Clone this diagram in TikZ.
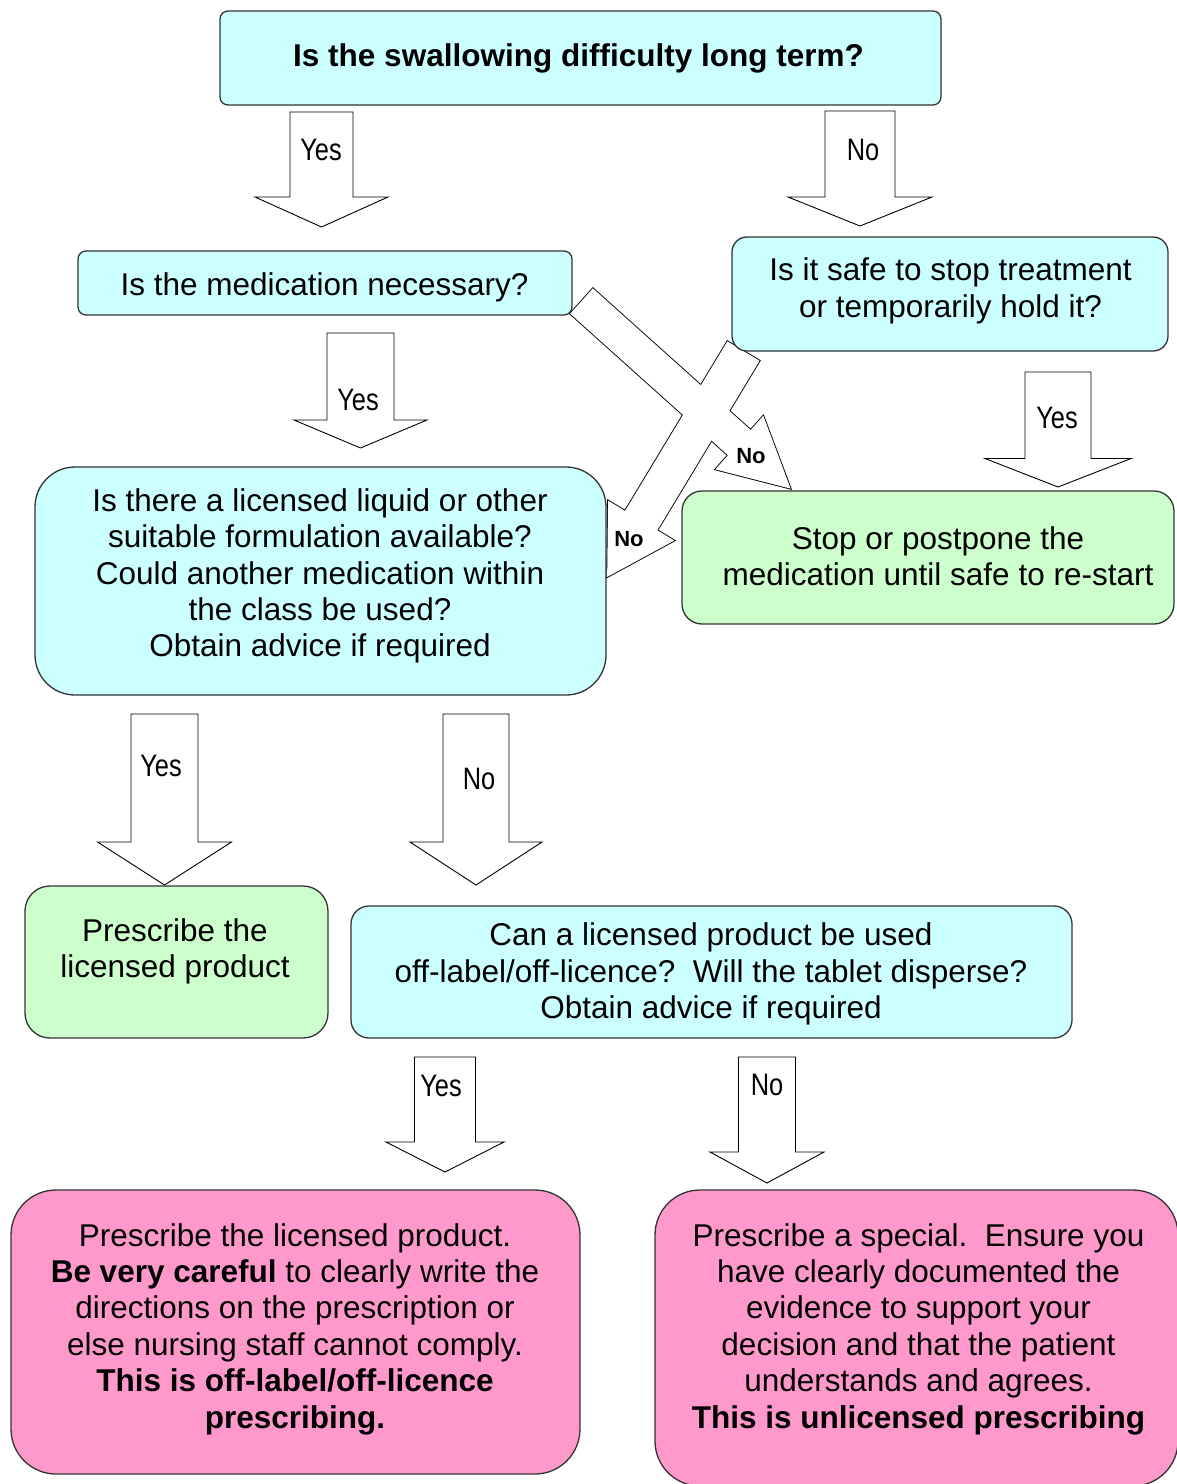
\documentclass[tikz,border=0pt]{standalone}
\usepackage{fontspec}
\setmainfont{Liberation Sans}
\newfontfamily\narrowfont[FakeStretch=0.82]{Liberation Sans}
\definecolor{boxcyan}{HTML}{CCFFFF}
\definecolor{boxgreen}{HTML}{CCFFCC}
\definecolor{boxpink}{HTML}{FF99CC}
\definecolor{boxline}{HTML}{333333}
\newcommand{\blockarrow}[7][arrowbody]{%
  \begin{scope}[shift={#2},rotate=#3]
    \path[#1] (0,-#5)--({#4-#7},-#5)--({#4-#7},-#6)--(#4,0)--({#4-#7},#6)--({#4-#7},#5)--(0,#5)--cycle;
  \end{scope}}
\begin{document}
\begin{tikzpicture}[x=1pt,y=-1pt,
  arrowbody/.style={draw=black,line width=0.9pt,fill=white,line join=miter},
  crossbody/.style={draw=black,line width=1.8pt,fill=white,line join=miter},
  arrowfill/.style={fill=white},
  cyanbox/.style={draw=boxline,line width=1.3pt,fill=boxcyan,inner sep=0pt},
  greenbox/.style={cyanbox,fill=boxgreen},
  pinkbox/.style={cyanbox,fill=boxpink},
  boxtext/.style={align=center,inner sep=0pt,yshift=-3,font=\fontsize{31.5}{36.4}\selectfont},
  answer/.style={inner sep=0pt,font=\narrowfont\fontsize{31}{31}\selectfont},
  smallno/.style={inner sep=0pt,font=\bfseries\fontsize{22}{22}\selectfont}]
\fill[white] (0,0) rectangle (1176,1484);
\useasboundingbox (0,0) rectangle (1176,1484);

\blockarrow[crossbody]{(581.5,301)}{-41.9}{281}{17}{36}{69}
\blockarrow[crossbody]{(743.5,351)}{-121.1}{264}{18.8}{38.7}{66}
\blockarrow[arrowfill]{(581.5,301)}{-41.9}{281}{17}{36}{69}
\blockarrow[arrowfill]{(743.5,351)}{-121.1}{264}{18.8}{38.7}{66}

\blockarrow{(321.5,112)}{-90}{115}{31.5}{66.5}{30}
\blockarrow{(860,111)}{-90}{115}{35}{72}{29}
\blockarrow{(360.5,333)}{-90}{115}{33.5}{66.5}{28}
\blockarrow{(1058,372)}{-90}{115}{33}{73}{28.5}
\blockarrow{(164.5,714)}{-90}{171}{33.5}{67}{43}
\blockarrow{(476,714)}{-90}{171}{33}{66}{43}
\blockarrow{(445,1057)}{-90}{115}{30.5}{59}{30}
\blockarrow{(767,1057)}{-90}{126}{28.5}{57}{31}

\node (q1) [cyanbox,rounded corners=8,minimum width=721,minimum height=94] at (580.5,58) {};
\node (q2) [cyanbox,rounded corners=8,minimum width=494,minimum height=64] at (325,283) {};
\node (q3) [cyanbox,rounded corners=15,minimum width=436,minimum height=114] at (950,294) {};
\node (q4) [cyanbox,rounded corners=40,minimum width=571,minimum height=228] at (320.5,581) {};
\node (q5) [greenbox,rounded corners=20,minimum width=492,minimum height=133] at (928,557.5) {};
\node (q6) [greenbox,rounded corners=25,minimum width=303,minimum height=152] at (176.5,962) {};
\node (q7) [cyanbox,rounded corners=18,minimum width=721,minimum height=132] at (711.5,972) {};
\node (q8) [pinkbox,rounded corners=45,minimum width=569,minimum height=284] at (295.5,1332) {};
\node (q9) [pinkbox,rounded corners=45,minimum width=523,minimum height=296] at (916.5,1338) {};

\node (t1) [boxtext,font=\bfseries\fontsize{31.5}{36.4}\selectfont] at (578.5,55) {Is the swallowing difficulty long term?};
\node (t2) [boxtext] at (324.5,284) {Is the medication necessary?};
\node (t3) [boxtext] at (950.5,288) {Is it safe to stop treatment\\or temporarily hold it?};
\node (t4) [boxtext] at (320,573) {Is there a licensed liquid or other\\suitable formulation available?\\Could another medication within\\the class be used?\\Obtain advice if required};
\node (t5) [boxtext] at (938,553.5) {Stop or postpone the\\medication until safe to re-start};
\node (t6) [boxtext] at (175,948.5) {Prescribe the\\licensed product};
\node (t7) [boxtext] at (711,971) {Can a licensed product be used\\off-label/off-licence?\ \ Will the tablet disperse?\\Obtain advice if required};
\node (t8) [boxtext] at (295,1326) {Prescribe the licensed product.\\\textbf{Be very careful} to clearly write the\\directions on the prescription or\\else nursing staff cannot comply.\\\textbf{This is off-label/off-licence}\\\textbf{prescribing.}};
\node (t9) [boxtext] at (918.5,1326) {Prescribe a special.\ \ Ensure you\\have clearly documented the\\evidence to support your\\decision and that the patient\\understands and agrees.\\\textbf{This is unlicensed prescribing}};

\node (l1) [answer] at (321,150) {Yes};
\node (l2) [answer] at (863,150) {No};
\node (l3) [answer] at (358,400) {Yes};
\node (l4) [answer] at (1057,418) {Yes};
\node (l5) [answer] at (161,766) {Yes};
\node (l6) [answer] at (479,779) {No};
\node (l7) [answer] at (441,1086) {Yes};
\node (l8) [answer] at (767,1085) {No};
\node (l9) [smallno] at (751,456) {No};
\node (l10) [smallno] at (629,539) {No};
\end{tikzpicture}
\end{document}
